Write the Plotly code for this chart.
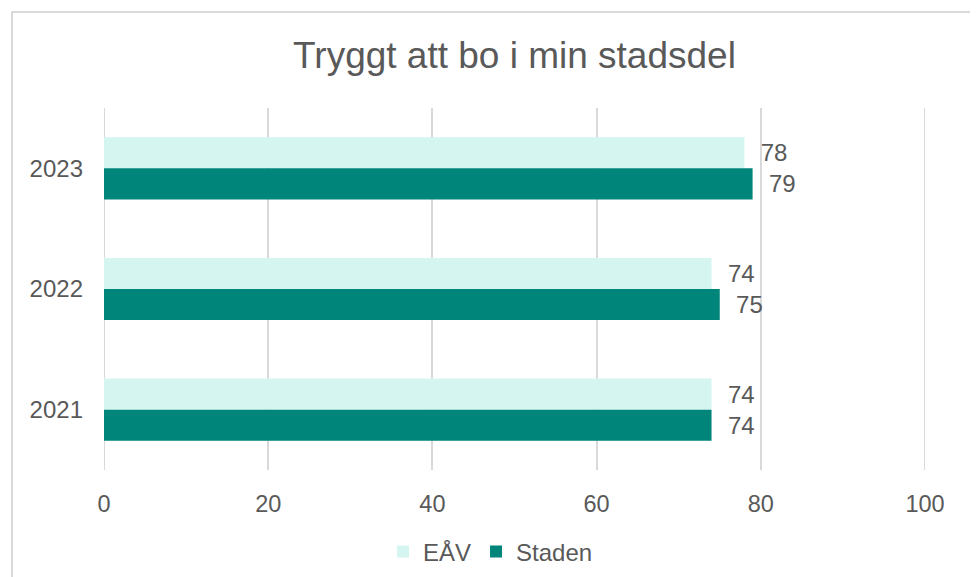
import plotly.graph_objects as go

years = ["2021", "2022", "2023"]
eav_values = [74, 74, 78]
staden_values = [74, 75, 79]
series_names = ["EÅV", "Staden"]
x_ticks = [0, 20, 40, 60, 80, 100]
title_text = "Tryggt att bo i min stadsdel"

FONT = "Liberation Sans, Arial, sans-serif"
GREY = "#595959"
GRID = "#d9d9d9"

fig = go.Figure()
fig.add_trace(go.Bar(
    y=years, x=eav_values, name=series_names[0], orientation="h",
    marker=dict(color="#d5f5f1", line=dict(width=0)),
    text=eav_values, texttemplate="  %{x}", textposition="outside",
    textfont=dict(size=24, color=GREY, family=FONT), cliponaxis=False,
))
fig.add_trace(go.Bar(
    y=years, x=staden_values, name=series_names[1], orientation="h",
    marker=dict(color="#00857a", line=dict(width=0)),
    text=staden_values, texttemplate="  %{x}", textposition="outside",
    textfont=dict(size=24, color=GREY, family=FONT), cliponaxis=False,
))

# page has an 8px body margin, so figure coords = reference coords - 8
W, H = 970, 569
L, R, T, B = 96, 53, 100, 107
pw, ph = W - L - R, H - T - B

fig.update_layout(
    width=W, height=H,
    barmode="group", bargap=0.485, bargroupgap=0,
    plot_bgcolor="white", paper_bgcolor="white",
    margin=dict(l=L, r=R, t=T, b=B, autoexpand=False),
    font=dict(family=FONT, color=GREY),
    title=dict(text=title_text, x=0.5, xanchor="center", xref="paper",
               y=1 - 47 / H, yref="container", yanchor="middle",
               font=dict(size=37, color=GREY, family=FONT)),
    xaxis=dict(range=[x_ticks[0], x_ticks[-1]], tickvals=x_ticks, showgrid=True,
               gridcolor=GRID, gridwidth=2, zeroline=False,
               showline=False, ticks="", ticklabelstandoff=17,
               tickfont=dict(size=23.5, color=GREY, family=FONT),
               fixedrange=True),
    yaxis=dict(categoryorder="array", categoryarray=["2023", "2022", "2021"],
               autorange="reversed", showgrid=False, zeroline=False,
               showline=False, ticks="", ticklabelstandoff=20,
               tickfont=dict(size=24, color=GREY, family=FONT)),
    legend=dict(orientation="h", x=0.5 - 24 / pw, xanchor="center", xref="paper",
                y=1 - 544 / H, yref="container", yanchor="middle",
                font=dict(size=24, color=GREY, family=FONT),
                itemwidth=30, tracegroupgap=0),
    showlegend=True,
)

# edge gridlines (plotly skips gridlines at the range ends)
for xv in (x_ticks[0], x_ticks[-1]):
    fig.add_shape(type="line", xref="x", yref="paper", x0=xv, x1=xv, y0=0, y1=1,
                  line=dict(color=GRID, width=2), layer="below")

# chart border
fig.add_shape(type="rect", xref="paper", yref="paper",
              x0=(4 - L) / pw, x1=(967 - L) / pw,
              y0=(H - B - 590) / ph, y1=(H - B - 4) / ph,
              line=dict(color=GRID, width=2), fillcolor="rgba(0,0,0,0)",
              layer="below")

fig.write_html("out.html")
